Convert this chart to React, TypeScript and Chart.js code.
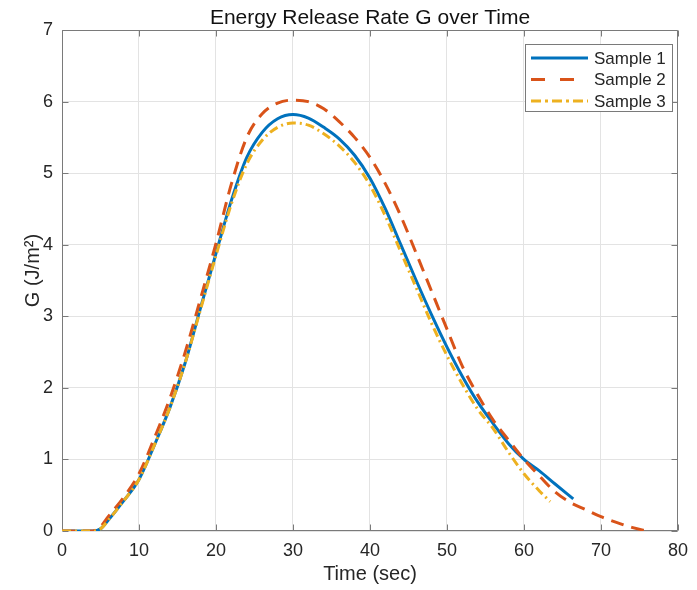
import React, { useEffect, useRef } from 'react';
import { Chart, registerables } from 'chart.js';

Chart.register(...registerables);

// ---- data ----
const seriesNames = ['Sample 1', 'Sample 2', 'Sample 3'];

const time1 = [0, 2, 4, 5, 6, 8, 10, 12, 14, 16, 18, 20, 22, 24, 26, 28, 30, 32, 34, 36, 38, 40, 42, 44, 46, 48, 50, 52, 54, 56, 58, 60, 62, 64, 66.4];
const g1 = [0, 0, 0, 0.03, 0.15, 0.42, 0.72, 1.2, 1.72, 2.35, 3.12, 3.88, 4.62, 5.22, 5.57, 5.76, 5.82, 5.77, 5.64, 5.48, 5.25, 4.93, 4.5, 4.0, 3.5, 3.02, 2.57, 2.16, 1.8, 1.5, 1.22, 1.0, 0.84, 0.66, 0.45];

const time2 = [0, 2, 4, 5, 6, 8, 10, 12, 14, 16, 18, 20, 22, 24, 26, 28, 30, 32, 34, 36, 38, 40, 42, 44, 46, 48, 50, 52, 54, 56, 58, 60, 62, 64, 66, 68, 70, 72, 74, 76];
const g2 = [0, 0, 0, 0.06, 0.2, 0.47, 0.8, 1.3, 1.85, 2.5, 3.25, 4.02, 4.85, 5.5, 5.83, 5.98, 6.02, 6.0, 5.9, 5.72, 5.5, 5.22, 4.85, 4.4, 3.88, 3.35, 2.82, 2.3, 1.9, 1.55, 1.27, 1.0, 0.77, 0.55, 0.4, 0.3, 0.2, 0.12, 0.05, 0];

const time3 = [0, 2, 4, 5, 6, 8, 10, 12, 14, 16, 18, 20, 22, 24, 26, 28, 30, 32, 34, 36, 38, 40, 42, 44, 46, 48, 50, 52, 54, 56, 58, 60, 62, 63.4];
const g3 = [0, 0, 0, 0.03, 0.15, 0.42, 0.72, 1.2, 1.72, 2.35, 3.1, 3.85, 4.57, 5.13, 5.46, 5.64, 5.7, 5.67, 5.55, 5.38, 5.15, 4.83, 4.4, 3.9, 3.4, 2.9, 2.45, 2.05, 1.7, 1.43, 1.1, 0.8, 0.56, 0.41];

const xTicks = [0, 10, 20, 30, 40, 50, 60, 70, 80];
const yTicks = [0, 1, 2, 3, 4, 5, 6, 7];

const titleText = 'Energy Release Rate G over Time';
const xLabel = 'Time (sec)';
const yLabel = 'G (J/m\u00B2)';

// ---- styles ----
const COLORS = ['#0072BD', '#D95319', '#EDB120'];
const DASHES: number[][] = [[], [13, 8], [9, 4, 2, 4]];
const LEGEND_DASHES: number[][] = [[], [14, 15], [10, 4, 3, 4]];
const FONT = '"Liberation Sans", Arial, Helvetica, sans-serif';
const AXIS_COLOR = '#7a7a7a';
const TEXT_COLOR = '#262626';
const GRID_COLOR = '#e3e3e3';

const toPoints = (xs: number[], ys: number[]) => xs.map((x, i) => ({ x, y: ys[i] }));

const decorPlugin = {
  id: 'decor',
  beforeDatasetsDraw(chart: any) {
    const { ctx, chartArea, scales } = chart;
    const { left, right, top, bottom } = chartArea;
    const L = Math.round(left) + 0.5;
    const R = Math.round(right) - 0.5;
    const T = Math.round(top) + 0.5;
    const B = Math.round(bottom) - 0.5;
    ctx.save();
    ctx.strokeStyle = AXIS_COLOR;
    ctx.lineWidth = 1;
    ctx.beginPath();
    ctx.rect(L, T, R - L, B - T);
    ctx.stroke();
    const tl = 6;
    ctx.beginPath();
    xTicks.forEach((v) => {
      const px = Math.round(scales.x.getPixelForValue(v)) + 0.5;
      ctx.moveTo(px, B);
      ctx.lineTo(px, B - tl);
      ctx.moveTo(px, T);
      ctx.lineTo(px, T + tl);
    });
    yTicks.forEach((v) => {
      const py = Math.round(scales.y.getPixelForValue(v)) + 0.5;
      ctx.moveTo(L, py);
      ctx.lineTo(L + tl, py);
      ctx.moveTo(R, py);
      ctx.lineTo(R - tl, py);
    });
    ctx.stroke();
    ctx.restore();
  },
  afterDraw(chart: any) {
    const { ctx, chartArea } = chart;
    const { left, right, top, bottom } = chartArea;
    const cx = (left + right) / 2;
    ctx.save();
    // title
    ctx.fillStyle = '#111111';
    ctx.font = `21px ${FONT}`;
    ctx.textAlign = 'center';
    ctx.textBaseline = 'alphabetic';
    ctx.fillText(titleText, cx, 24);
    // x label
    ctx.fillStyle = TEXT_COLOR;
    ctx.font = `20px ${FONT}`;
    ctx.fillText(xLabel, cx, 580);
    // y label
    ctx.save();
    ctx.translate(39, (top + bottom) / 2 - 10);
    ctx.rotate(-Math.PI / 2);
    ctx.textAlign = 'center';
    ctx.textBaseline = 'alphabetic';
    ctx.fillText(yLabel, 0, 0);
    ctx.restore();
    // legend
    const bx = 525.5, by = 44.5, bw = 147, bh = 67;
    ctx.fillStyle = '#ffffff';
    ctx.fillRect(bx, by, bw, bh);
    ctx.strokeStyle = '#7a7a7a';
    ctx.lineWidth = 1;
    ctx.strokeRect(bx, by, bw, bh);
    const rows = [58, 79.5, 101];
    seriesNames.forEach((name, i) => {
      ctx.save();
      ctx.strokeStyle = COLORS[i];
      ctx.lineWidth = 3;
      ctx.setLineDash(LEGEND_DASHES[i]);
      ctx.beginPath();
      ctx.moveTo(531, rows[i]);
      ctx.lineTo(588, rows[i]);
      ctx.stroke();
      ctx.restore();
      ctx.fillStyle = TEXT_COLOR;
      ctx.font = `17px ${FONT}`;
      ctx.textAlign = 'left';
      ctx.textBaseline = 'middle';
      ctx.fillText(name, 594, rows[i] + 1);
    });
    ctx.restore();
  },
};

export default function App() {
  const canvasRef = useRef<HTMLCanvasElement | null>(null);

  useEffect(() => {
    document.body.style.margin = '0';
    const canvas = canvasRef.current;
    if (!canvas) return;
    const allX = [time1, time2, time3];
    const allY = [g1, g2, g3];
    const chart = new Chart(canvas, {
      type: 'line',
      data: {
        datasets: seriesNames.map((name, i) => ({
          label: name,
          data: toPoints(allX[i], allY[i]),
          borderColor: COLORS[i],
          backgroundColor: COLORS[i],
          borderWidth: 3,
          borderDash: DASHES[i],
          pointRadius: 0,
          fill: false,
          cubicInterpolationMode: 'monotone' as const,
          order: 3 - i,
        })),
      },
      options: {
        responsive: false,
        animation: false,
        devicePixelRatio: 1,
        layout: { padding: { left: 0, top: 30, right: 11, bottom: 0 } },
        plugins: {
          legend: { display: false },
          title: { display: false },
          tooltip: { enabled: false },
        },
        scales: {
          x: {
            type: 'linear',
            min: 0,
            max: 80,
            afterFit: (scale: any) => {
              scale.height = 59;
            },
            afterBuildTicks: (scale: any) => {
              scale.ticks = xTicks.map((v) => ({ value: v }));
            },
            ticks: {
              font: { family: FONT, size: 18 },
              color: TEXT_COLOR,
              padding: 9,
              maxRotation: 0,
              autoSkip: false,
            },
            grid: { color: GRID_COLOR, drawTicks: false },
            border: { display: false },
          },
          y: {
            type: 'linear',
            min: 0,
            max: 7,
            afterFit: (scale: any) => {
              scale.width = 62;
            },
            afterBuildTicks: (scale: any) => {
              scale.ticks = yTicks.map((v) => ({ value: v }));
            },
            ticks: {
              font: { family: FONT, size: 18 },
              color: TEXT_COLOR,
              padding: 9,
            },
            grid: { color: GRID_COLOR, drawTicks: false },
            border: { display: false },
          },
        },
      },
      plugins: [decorPlugin],
    } as any);
    return () => chart.destroy();
  }, []);

  return (
    <div style={{ position: 'absolute', left: 0, top: 0, width: 697, height: 590, background: '#fff' }}>
      <canvas ref={canvasRef} width={697} height={590} style={{ display: 'block' }} />
    </div>
  );
}
